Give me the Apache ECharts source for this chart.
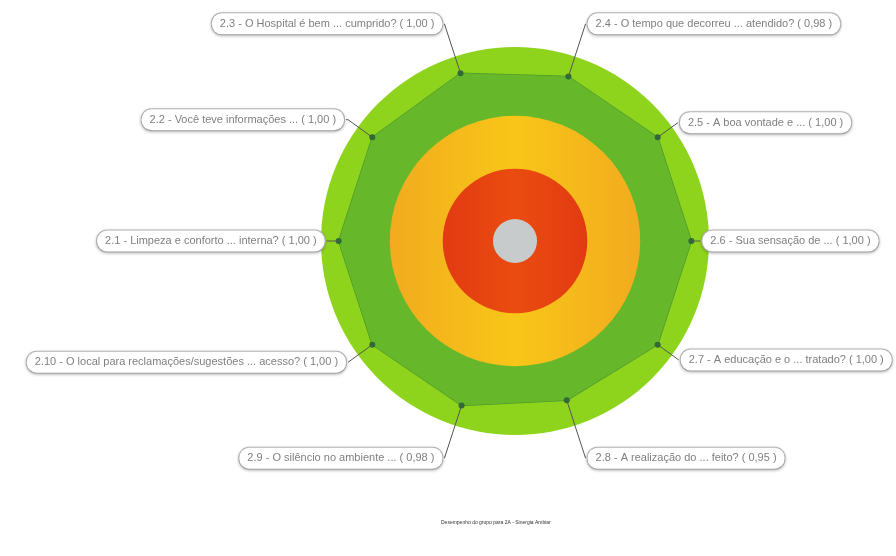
<!DOCTYPE html>
<html><head><meta charset="utf-8">
<script src="https://cdn.jsdelivr.net/npm/echarts@6/dist/echarts.min.js"></script>
<style>html,body{margin:0;padding:0;background:#fff}#c{width:896px;height:556px}</style>
</head><body><div id="c"></div>
<script>
// ---- data ----
const questions = [
  '2.1 - Limpeza e conforto ... interna?',
  '2.2 - Você teve informações ...',
  '2.3 - O Hospital é bem ... cumprido?',
  '2.4 - O tempo que decorreu ... atendido?',
  '2.5 - A boa vontade e ...',
  '2.6 - Sua sensação de ...',
  '2.7 - A educação e o ... tratado?',
  '2.8 - A realização do ... feito?',
  '2.9 - O silêncio no ambiente ...',
  '2.10 - O local para reclamações/sugestões ... acesso?'
];
const scores = [1.00, 1.00, 1.00, 0.98, 1.00, 1.00, 1.00, 0.95, 0.98, 1.00];
const scaleMax = 1.1;
// outer edge of each performance band (gray, red, yellow, green) on the score scale
const bandEdges = [0.125, 0.41, 0.71, 1.1];
const footerText = 'Desempenho do grupo para 2A - Sinergia Ambiar';

// ---- layout / style ----
const center = [515, 241];
const R = 194;
const bandColors = [
  '#c8cbcb',
  {type:'linear',x:0,y:0,x2:1,y2:0,colorStops:[{offset:0,color:'#e23a12'},{offset:0.5,color:'#ea4c10'},{offset:1,color:'#e23a12'}]},
  {type:'linear',x:0,y:0,x2:1,y2:0,colorStops:[{offset:0,color:'#f2ab1f'},{offset:0.5,color:'#f8c618'},{offset:1,color:'#f2ab1f'}]},
  '#8fd41c'
];
const lineLens = [[6,6],[30,2],[52,0],[52,0],[25,0],[4,5],[26,0],[52,0],[52,0],[30,0]];

const fmt = v => v.toFixed(2).replace('.', ',');
// radar indicators run counter-clockwise; pie slices run clockwise
const radarOrder = [0, 9, 8, 7, 6, 5, 4, 3, 2, 1];

const series = [];
const bandZ = [6, 5, 4, 1];
for (let i = bandEdges.length - 1; i >= 0; i--) {
  series.push({
    type: 'pie', silent: true, z: bandZ[i], center: center,
    radius: [0, R * bandEdges[i] / scaleMax],
    label: {show: false}, labelLine: {show: false},
    itemStyle: {color: bandColors[i]},
    emphasis: {disabled: true},
    data: [{value: 1, name: 'band' + i}]
  });
}
series.push({
  type: 'radar', z: 2,
  symbol: 'circle', symbolSize: 6,
  lineStyle: {color: '#4e9b2c', width: 1.5},
  itemStyle: {color: '#2f6b36'},
  areaStyle: {color: '#66b72a', opacity: 1},
  emphasis: {disabled: true},
  data: [{value: radarOrder.map(i => scores[i]), name: 'Desempenho'}]
});
series.push({
  type: 'pie', z: 7, center: center, roseType: 'area',
  radius: [0, R * 1.0 / scaleMax],
  startAngle: 198, clockwise: true,
  avoidLabelOverlap: false,
  itemStyle: {color: 'rgba(0,0,0,0)'},
  emphasis: {disabled: true},
  labelLayout: {hideOverlap: false},
  data: questions.map((q, i) => ({
    name: q, value: scores[i],
    labelLine: {length: lineLens[i][0], length2: lineLens[i][1]}
  })),
  label: {
    show: true, position: 'outside', alignTo: 'none',
    distanceToLabelLine: 2,
    formatter: p => p.name + ' ( ' + fmt(p.value) + ' )',
    fontFamily: 'Liberation Sans', fontSize: 11, color: '#808080',
    backgroundColor: '#fff', borderColor: '#b8b8b8', borderWidth: 1,
    borderRadius: 10, padding: [5, 8],
    shadowColor: 'rgba(0,0,0,0.2)', shadowBlur: 3, shadowOffsetY: 1
  },
  labelLine: {show: true, smooth: false, lineStyle: {color: '#555', width: 1}}
});

const chart = echarts.init(document.getElementById('c'));
chart.setOption({
  animation: false,
  backgroundColor: '#fff',
  title: {
    text: footerText, left: 436, top: 515,
    textStyle: {fontSize: 5, fontWeight: 'normal', color: '#333', fontFamily: 'Liberation Sans'}
  },
  radar: {
    center: center, radius: R, startAngle: 180, z: 0,
    indicator: radarOrder.map(i => ({name: questions[i], min: 0, max: scaleMax})),
    axisName: {show: false},
    axisLine: {show: false}, splitLine: {show: false}, splitArea: {show: false}, axisTick: {show: false}
  },
  series: series
});
</script>
</body></html>
